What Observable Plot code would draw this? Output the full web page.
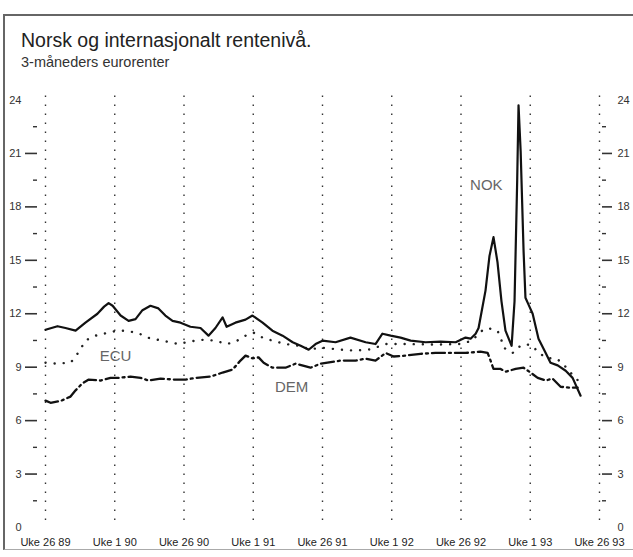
<!DOCTYPE html>
<html><head><meta charset="utf-8">
<script src="https://cdn.jsdelivr.net/npm/d3@7"></script>
<script src="https://cdn.jsdelivr.net/npm/@observablehq/plot@0.6"></script>
<style>
body{margin:0;background:#fff;width:633px;height:557px;overflow:hidden;position:relative;font-family:"Liberation Sans",Arial,sans-serif}
#frame{position:absolute;left:3px;top:14px;width:640px;height:536px;border-top:2px solid #666;border-left:2px solid #666;border-bottom:1px solid #aaa;box-sizing:border-box}
#title{position:absolute;left:21px;top:29px;font-family:"Liberation Sans",Arial,sans-serif;font-size:19.5px;color:#222;white-space:nowrap;line-height:1.15}
#sub{position:absolute;left:21px;top:54px;font-family:"Liberation Sans",Arial,sans-serif;font-size:14.5px;color:#333;white-space:nowrap;line-height:1.15}
#chart{position:absolute;left:0;top:80px}
</style></head>
<body>
<div id="frame"></div>
<div id="title">Norsk og internasjonalt rentenivå.</div>
<div id="sub">3-måneders eurorenter</div>
<div id="chart"></div>
<script>
// weeks since Uke 26 1989
const tickWeeks = [0, 26, 52, 78, 104, 130, 156, 182, 208];
const tickLabels = ["Uke 26 89", "Uke 1 90", "Uke 26 90", "Uke 1 91", "Uke 26 91", "Uke 1 92", "Uke 26 92", "Uke 1 93", "Uke 26 93"];
const yLabelTicks = [0, 3, 6, 9, 12, 15, 18, 21, 24];
const yMajorTicks = [3, 6, 9, 12, 15, 18, 21];
const yMinorTicks = [1.5, 4.5, 7.5, 10.5, 13.5, 16.5, 19.5, 22.5];

const nokWeeks = [0,4.5,7.5,11.3,15,19.5,22,23.7,25.2,28.2,31.2,33.8,36.4,39.4,42.4,45,47.7,50.7,54.4,58.2,61.2,63.8,66.5,68,71.3,75.1,77.7,81.5,85.2,89,92.8,95.8,98.8,101.4,104,108.9,114.5,120.2,123.9,126.5,129.6,133.3,137.1,142.7,148.3,154,157.7,159.6,161.5,162.6,165.2,166.7,168.2,169.7,171.2,172.7,175,176.1,177.1,177.6,178.4,179.5,180.2,181.4,182.9,185.1,187.8,189.6,192.3,195.3,197.9,200.9];
const nokValues = [11.1,11.3,11.2,11.05,11.5,12.0,12.4,12.6,12.45,11.9,11.6,11.7,12.2,12.45,12.3,11.9,11.6,11.5,11.27,11.2,10.77,11.2,11.8,11.27,11.5,11.67,11.9,11.5,11.05,10.77,10.4,10.2,9.98,10.3,10.49,10.4,10.66,10.4,10.3,10.88,10.77,10.66,10.49,10.4,10.43,10.4,10.66,10.6,10.88,11.2,13.3,15.25,16.3,14.9,12.7,11.05,10.2,12.7,19.5,23.7,21.1,15.5,12.9,12.5,12.0,10.6,9.8,9.25,9.1,8.8,8.4,7.4];

const ecuWeeks = [0,3.8,9.4,11.3,13.1,15,18.8,22.5,25.2,28.9,34.5,38.3,42.1,45.8,49.9,52.9,58.2,63.8,68,71.3,75.1,78.1,81.5,85.2,90.1,95,99.5,103.3,110.8,116.4,122,127.7,135.2,148.3,155.8,160.3,163.3,166,169.7,170.9,172,175.4,177.2,180.2,182.9,185.1,188.5,191.5,194.1,196.4,199,200.9];
const ecuValues = [9.25,9.2,9.25,9.6,10.0,10.5,10.77,10.9,11.0,11.05,10.94,10.66,10.54,10.43,10.3,10.4,10.54,10.49,10.3,10.43,10.77,10.94,10.66,10.49,10.3,10.2,10.0,10.1,9.98,9.93,10.0,10.3,10.3,10.27,10.3,10.5,11.0,11.2,11.05,10.66,10.1,9.8,10.1,10.3,10.2,9.8,9.5,9.5,9.25,8.8,8.4,8.1];

const demWeeks = [0,1.9,5.6,9.4,11.3,13.9,16.1,20.7,24.4,27.4,31.9,35.7,38.7,43.2,48.8,52.6,56.3,62,66.5,70.2,73.2,75.1,77.7,80,81.9,85.2,90.1,93.9,99.5,103.3,110.8,116.4,120.2,123.9,127.7,130.7,135.2,140.8,146.4,152.1,157.7,163.3,166,167.1,168.2,170.9,172.7,176.5,179.5,182.1,184.8,187.8,190.4,193.4,197.1,199.8];
const demValues = [7.12,7.0,7.1,7.35,7.7,8.1,8.3,8.25,8.4,8.4,8.47,8.4,8.25,8.36,8.3,8.3,8.4,8.47,8.7,8.86,9.37,9.65,9.5,9.55,9.25,8.97,8.97,9.2,8.97,9.2,9.37,9.37,9.48,9.37,9.8,9.6,9.65,9.75,9.8,9.8,9.8,9.87,9.8,9.37,8.9,8.9,8.75,8.9,8.97,8.7,8.4,8.25,8.36,7.9,7.85,7.85];

const seriesNames = ["ECU", "DEM", "NOK"];
const labelWeeks = [26.3, 92.4, 165.5];
const labelValues = [9.6, 7.85, 19.2];

const toRows = (ws, vs) => ws.map((w, i) => ({w, v: vs[i]}));
const nok = toRows(nokWeeks, nokValues);
const ecu = toRows(ecuWeeks, ecuValues);
const dem = toRows(demWeeks, demValues);
const labels = seriesNames.map((s, i) => ({s, w: labelWeeks[i], v: labelValues[i]}));
const labelByWeek = new Map(tickWeeks.map((w, i) => [w, tickLabels[i]]));

const chart = Plot.plot({
  width: 633,
  height: 477,
  marginLeft: 45,
  marginRight: 34,
  marginTop: 19.5,
  marginBottom: 30,
  x: {domain: [0, 208], axis: null},
  y: {domain: [0, 24], axis: null},
  style: {fontFamily: "'Liberation Sans', Arial, sans-serif", fontSize: "11px", color: "#222", background: "transparent", overflow: "visible"},
  marks: [
    Plot.ruleX(tickWeeks, {stroke: "#333", strokeWidth: 1.4, strokeDasharray: "1.4,7.6", insetTop: -4}),
    Plot.axisY(yMajorTicks, {anchor: "left", tickSize: 12, dx: -8, strokeWidth: 1.6, stroke: "#333", tickFormat: () => "", label: null}),
    Plot.axisY(yMinorTicks, {anchor: "left", tickSize: 4, dx: -8, strokeWidth: 1.4, stroke: "#333", tickFormat: () => "", label: null}),
    Plot.axisY(yLabelTicks, {anchor: "left", tickSize: 0, tickPadding: 24, fill: "#333", label: null}),
    Plot.axisY(yMajorTicks, {anchor: "right", tickSize: 10, dx: 2, strokeWidth: 1.6, stroke: "#333", tickFormat: () => "", label: null}),
    Plot.axisY(yMinorTicks, {anchor: "right", tickSize: 4, dx: 2, strokeWidth: 1.4, stroke: "#333", tickFormat: () => "", label: null}),
    Plot.axisY(yLabelTicks, {anchor: "right", tickSize: 0, tickPadding: 18, fill: "#333", label: null}),
    Plot.axisX(tickWeeks, {anchor: "bottom", tickSize: 0, tickPadding: 11, fill: "#222", tickFormat: d => labelByWeek.get(d), label: null}),
    Plot.line(ecu, {x: "w", y: "v", stroke: "#222", strokeWidth: 2.4, strokeDasharray: "0.1,9", strokeLinecap: "round"}),
    Plot.line(dem, {x: "w", y: "v", stroke: "#111", strokeWidth: 2.3, strokeDasharray: "13,4,2,4"}),
    Plot.line(nok, {x: "w", y: "v", stroke: "#111", strokeWidth: 2.2, strokeLinejoin: "round"}),
    Plot.text(labels, {x: "w", y: "v", text: "s", fontSize: 15, fill: "#666"})
  ]
});
document.getElementById("chart").appendChild(chart);
</script>
</body></html>
